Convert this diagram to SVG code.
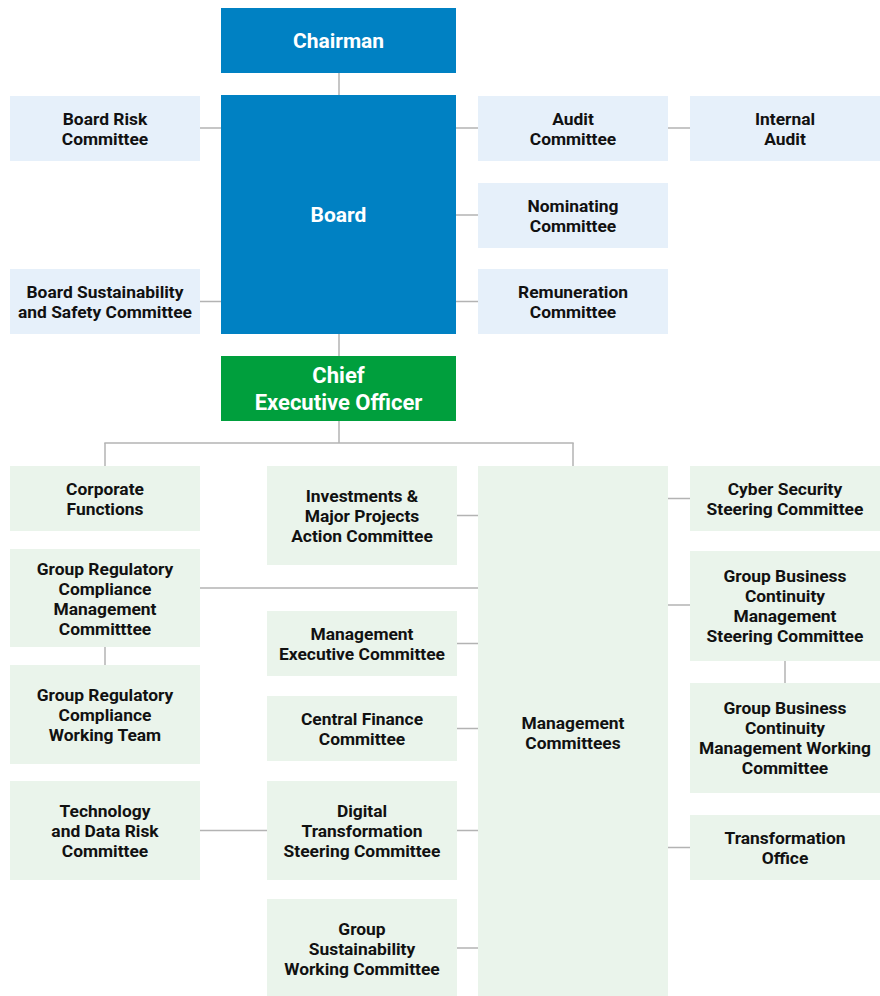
<svg xmlns="http://www.w3.org/2000/svg" width="880" height="996" viewBox="0 0 880 996">
<style>
.blue{fill:#0081C3}
.green{fill:#009F3D}
.lb{fill:#E6F0FA}
.lg{fill:#EAF4EB}
text{font-family:Roboto,"Liberation Sans",sans-serif;font-weight:bold;text-anchor:middle}
.t{font-size:17.4px;fill:#111111}
.w{font-size:21px;fill:#ffffff}
.w2{font-size:22px;fill:#ffffff}
#connectors line{stroke:#B3B3B3;stroke-width:1.5}
</style>
<rect width="880" height="996" fill="#ffffff"/>
<g id="connectors">
<line x1="339" y1="73" x2="339" y2="95"/>
<line x1="200" y1="128" x2="221" y2="128"/>
<line x1="200" y1="301.5" x2="221" y2="301.5"/>
<line x1="456" y1="128" x2="478" y2="128"/>
<line x1="668" y1="128" x2="690" y2="128"/>
<line x1="456" y1="215" x2="478" y2="215"/>
<line x1="456" y1="301.5" x2="478" y2="301.5"/>
<line x1="339" y1="334" x2="339" y2="356"/>
<line x1="339" y1="421" x2="339" y2="443"/>
<line x1="104.3" y1="443" x2="573.7" y2="443"/>
<line x1="105" y1="443" x2="105" y2="466"/>
<line x1="573" y1="443" x2="573" y2="466"/>
<line x1="457" y1="515.5" x2="478" y2="515.5"/>
<line x1="200" y1="588" x2="478" y2="588"/>
<line x1="457" y1="643.5" x2="478" y2="643.5"/>
<line x1="457" y1="728.5" x2="478" y2="728.5"/>
<line x1="200" y1="830.5" x2="267" y2="830.5"/>
<line x1="457" y1="830.5" x2="478" y2="830.5"/>
<line x1="457" y1="948" x2="478" y2="948"/>
<line x1="105" y1="647" x2="105" y2="665"/>
<line x1="668" y1="498.5" x2="690" y2="498.5"/>
<line x1="668" y1="605" x2="690" y2="605"/>
<line x1="785" y1="661" x2="785" y2="683"/>
<line x1="668" y1="847.5" x2="690" y2="847.5"/>
</g>
<g id="chairman"><rect class="blue" x="221" y="8" width="235" height="65"/><text class="w" x="338.5" y="48">Chairman</text></g>
<g id="board"><rect class="blue" x="221" y="95" width="235" height="239"/><text class="w" x="338.5" y="222">Board</text></g>
<g id="board-risk"><rect class="lb" x="10" y="96" width="190" height="65"/><text class="t" x="105" y="125">Board Risk</text><text class="t" x="105" y="145">Committee</text></g>
<g id="board-sustainability"><rect class="lb" x="10" y="269" width="190" height="65"/><text class="t" x="105" y="298">Board Sustainability</text><text class="t" x="105" y="318">and Safety Committee</text></g>
<g id="audit"><rect class="lb" x="478" y="96" width="190" height="65"/><text class="t" x="573" y="125">Audit</text><text class="t" x="573" y="145">Committee</text></g>
<g id="internal-audit"><rect class="lb" x="690" y="96" width="190" height="65"/><text class="t" x="785" y="125">Internal</text><text class="t" x="785" y="145">Audit</text></g>
<g id="nominating"><rect class="lb" x="478" y="183" width="190" height="65"/><text class="t" x="573" y="212">Nominating</text><text class="t" x="573" y="232">Committee</text></g>
<g id="remuneration"><rect class="lb" x="478" y="269" width="190" height="65"/><text class="t" x="573" y="298">Remuneration</text><text class="t" x="573" y="318">Committee</text></g>
<g id="ceo"><rect class="green" x="221" y="356" width="235" height="65"/><text class="w2" x="338.5" y="383">Chief</text><text class="w2" x="338.5" y="410">Executive Officer</text></g>
<g id="corporate-functions"><rect class="lg" x="10" y="466" width="190" height="65"/><text class="t" x="105" y="495">Corporate</text><text class="t" x="105" y="515">Functions</text></g>
<g id="investments"><rect class="lg" x="267" y="466" width="190" height="99"/><text class="t" x="362" y="502">Investments &amp;</text><text class="t" x="362" y="522">Major Projects</text><text class="t" x="362" y="542">Action Committee</text></g>
<g id="grc-management"><rect class="lg" x="10" y="549" width="190" height="98"/><text class="t" x="105" y="575">Group Regulatory</text><text class="t" x="105" y="595">Compliance</text><text class="t" x="105" y="615">Management</text><text class="t" x="105" y="635">Committtee</text></g>
<g id="management-executive"><rect class="lg" x="267" y="611" width="190" height="65"/><text class="t" x="362" y="640">Management</text><text class="t" x="362" y="660">Executive Committee</text></g>
<g id="grc-working-team"><rect class="lg" x="10" y="665" width="190" height="99"/><text class="t" x="105" y="701">Group Regulatory</text><text class="t" x="105" y="721">Compliance</text><text class="t" x="105" y="741">Working Team</text></g>
<g id="central-finance"><rect class="lg" x="267" y="696" width="190" height="65"/><text class="t" x="362" y="725">Central Finance</text><text class="t" x="362" y="745">Committee</text></g>
<g id="technology-data-risk"><rect class="lg" x="10" y="781" width="190" height="99"/><text class="t" x="105" y="817">Technology</text><text class="t" x="105" y="837">and Data Risk</text><text class="t" x="105" y="857">Committee</text></g>
<g id="digital-transformation"><rect class="lg" x="267" y="781" width="190" height="99"/><text class="t" x="362" y="817">Digital</text><text class="t" x="362" y="837">Transformation</text><text class="t" x="362" y="857">Steering Committee</text></g>
<g id="group-sustainability"><rect class="lg" x="267" y="899" width="190" height="97"/><text class="t" x="362" y="935">Group</text><text class="t" x="362" y="955">Sustainability</text><text class="t" x="362" y="975">Working Committee</text></g>
<g id="management-committees"><rect class="lg" x="478" y="466" width="190" height="530"/><text class="t" x="573" y="729">Management</text><text class="t" x="573" y="749">Committees</text></g>
<g id="cyber-security"><rect class="lg" x="690" y="466" width="190" height="65"/><text class="t" x="785" y="495">Cyber Security</text><text class="t" x="785" y="515">Steering Committee</text></g>
<g id="gbcm-steering"><rect class="lg" x="690" y="551" width="190" height="110"/><text class="t" x="785" y="582">Group Business</text><text class="t" x="785" y="602">Continuity</text><text class="t" x="785" y="622">Management</text><text class="t" x="785" y="642">Steering Committee</text></g>
<g id="gbcm-working"><rect class="lg" x="690" y="683" width="190" height="110"/><text class="t" x="785" y="714">Group Business</text><text class="t" x="785" y="734">Continuity</text><text class="t" x="785" y="754">Management Working</text><text class="t" x="785" y="774">Committee</text></g>
<g id="transformation-office"><rect class="lg" x="690" y="815" width="190" height="65"/><text class="t" x="785" y="844">Transformation</text><text class="t" x="785" y="864">Office</text></g>
</svg>
